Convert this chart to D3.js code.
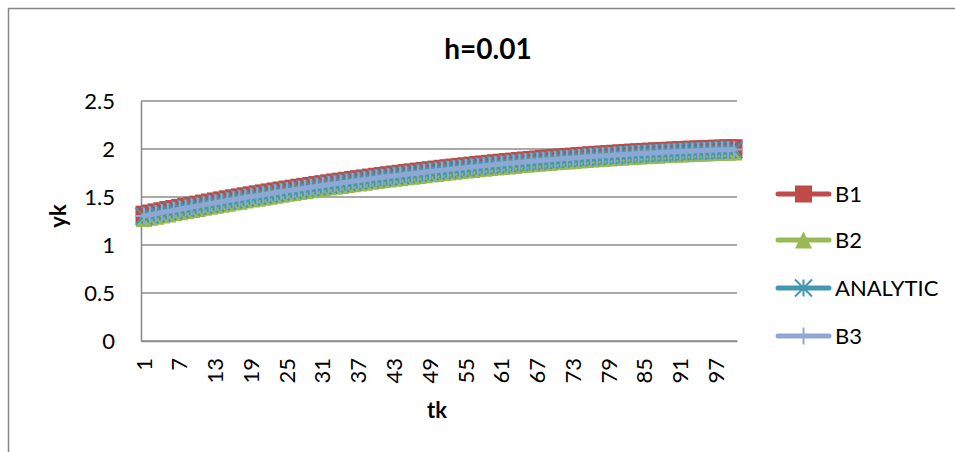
<!DOCTYPE html>
<html>
<head>
<meta charset="utf-8">
<script src="https://cdn.jsdelivr.net/npm/d3@7"></script>
<style>
  html, body { margin: 0; padding: 0; background: #fff; }
  svg { display: block; font-family: Lato, "Open Sans", sans-serif; }
</style>
</head>
<body>
<svg id="chart" width="955" height="452"></svg>
<script>
// Step index tk = 1..100
const tk = d3.range(1, 101);
const xTickLabels = ["1","7","13","19","25","31","37","43","49","55","61","67","73","79","85","91","97"];
const yTicks = [0, 0.5, 1, 1.5, 2, 2.5];

const B1 = [
  1.321,1.333,1.345,1.357,1.369,1.380,1.392,1.404,1.415,1.426,
  1.437,1.448,1.459,1.470,1.481,1.492,1.502,1.513,1.523,1.533,
  1.543,1.553,1.563,1.573,1.583,1.592,1.602,1.611,1.620,1.630,
  1.639,1.648,1.657,1.665,1.674,1.683,1.691,1.699,1.708,1.716,
  1.724,1.732,1.740,1.747,1.755,1.762,1.770,1.777,1.784,1.791,
  1.799,1.805,1.812,1.819,1.825,1.832,1.838,1.845,1.851,1.857,
  1.863,1.869,1.874,1.880,1.886,1.891,1.896,1.902,1.907,1.912,
  1.917,1.921,1.926,1.931,1.935,1.940,1.944,1.948,1.952,1.956,
  1.960,1.964,1.968,1.971,1.975,1.978,1.981,1.984,1.987,1.990,
  1.993,1.996,1.999,2.001,2.003,2.006,2.008,2.010,2.012,2.014
];
const B2 = [
  1.276,1.288,1.300,1.312,1.324,1.335,1.347,1.359,1.370,1.381,
  1.392,1.403,1.414,1.425,1.436,1.447,1.457,1.468,1.478,1.488,
  1.498,1.508,1.518,1.528,1.538,1.547,1.557,1.566,1.575,1.585,
  1.594,1.603,1.612,1.620,1.629,1.638,1.646,1.654,1.663,1.671,
  1.679,1.687,1.695,1.702,1.710,1.717,1.725,1.732,1.739,1.746,
  1.754,1.760,1.767,1.774,1.780,1.787,1.793,1.800,1.806,1.812,
  1.818,1.824,1.829,1.835,1.841,1.846,1.851,1.857,1.862,1.867,
  1.872,1.876,1.881,1.886,1.890,1.895,1.899,1.903,1.907,1.911,
  1.915,1.919,1.923,1.926,1.930,1.933,1.936,1.939,1.942,1.945,
  1.948,1.951,1.954,1.956,1.958,1.961,1.963,1.965,1.967,1.969
];
const ANALYTIC = [
  1.300,1.312,1.324,1.336,1.348,1.359,1.371,1.383,1.394,1.405,
  1.416,1.427,1.438,1.449,1.460,1.471,1.481,1.492,1.502,1.512,
  1.522,1.532,1.542,1.552,1.562,1.571,1.581,1.590,1.599,1.609,
  1.618,1.627,1.636,1.644,1.653,1.662,1.670,1.678,1.687,1.695,
  1.703,1.711,1.719,1.726,1.734,1.741,1.749,1.756,1.763,1.770,
  1.778,1.784,1.791,1.798,1.804,1.811,1.817,1.824,1.830,1.836,
  1.842,1.848,1.853,1.859,1.865,1.870,1.875,1.881,1.886,1.891,
  1.896,1.900,1.905,1.910,1.914,1.919,1.923,1.927,1.931,1.935,
  1.939,1.943,1.947,1.950,1.954,1.957,1.960,1.963,1.966,1.969,
  1.972,1.975,1.978,1.980,1.982,1.985,1.987,1.989,1.991,1.993
];
const B3 = [
  1.302,1.314,1.326,1.338,1.350,1.361,1.373,1.385,1.396,1.407,
  1.418,1.429,1.440,1.451,1.462,1.473,1.483,1.494,1.504,1.514,
  1.524,1.534,1.544,1.554,1.564,1.573,1.583,1.592,1.601,1.611,
  1.620,1.629,1.638,1.646,1.655,1.664,1.672,1.680,1.689,1.697,
  1.705,1.713,1.721,1.728,1.736,1.743,1.751,1.758,1.765,1.772,
  1.780,1.786,1.793,1.800,1.806,1.813,1.819,1.826,1.832,1.838,
  1.844,1.850,1.855,1.861,1.867,1.872,1.877,1.883,1.888,1.893,
  1.898,1.902,1.907,1.912,1.916,1.921,1.925,1.929,1.933,1.937,
  1.941,1.945,1.949,1.952,1.956,1.959,1.962,1.965,1.968,1.971,
  1.974,1.977,1.980,1.982,1.984,1.987,1.989,1.991,1.993,1.995
];

const seriesNames = ["B1", "B2", "ANALYTIC", "B3"];
const seriesValues = [B1, B2, ANALYTIC, B3];
const seriesColors = ["#BE4B48", "#98B954", "#4198AF", "#8EA8D3"];
const seriesMarkers = ["square", "triangle", "asterisk", "plus"];

const svg = d3.select("#chart");
const plot = { left: 141, right: 737, top: 101, bottom: 341 };

// Chart frame
svg.append("rect")
  .attr("x", 8.5).attr("y", 8.5)
  .attr("width", 1000).attr("height", 600)
  .attr("fill", "#fff").attr("stroke", "#868686").attr("stroke-width", 1.5);

const x = d3.scaleBand().domain(tk).range([plot.left, plot.right]).padding(0);
const y = d3.scaleLinear().domain([0, 2.5]).range([plot.bottom, plot.top]);
const cx = d => x(d) + x.bandwidth() / 2;

// Horizontal gridlines
svg.append("g")
  .selectAll("line")
  .data(yTicks)
  .join("line")
  .attr("x1", plot.left).attr("x2", plot.right)
  .attr("y1", d => y(d)).attr("y2", d => y(d))
  .attr("stroke", "#8C8C8C").attr("stroke-width", 1.6);

// Value axis
const yAxis = svg.append("g")
  .attr("transform", `translate(${plot.left},0)`)
  .call(d3.axisLeft(y).tickValues(yTicks).tickSize(0).tickPadding(26).tickFormat(d3.format("")));
yAxis.select(".domain").attr("stroke", "#8C8C8C").attr("stroke-width", 1.6);
yAxis.selectAll("text").attr("font-size", 22).attr("fill", "#000")
  .attr("font-family", "Lato, sans-serif");

// Category axis
const xAxis = svg.append("g")
  .attr("transform", `translate(0,${plot.bottom})`)
  .call(d3.axisBottom(x).tickValues(xTickLabels.map(Number)).tickSize(0).tickFormat(d => String(d)));
xAxis.select(".domain").attr("stroke", "#8C8C8C").attr("stroke-width", 1.6);
xAxis.selectAll("text")
  .attr("font-size", 22).attr("fill", "#000").attr("font-family", "Lato, sans-serif")
  .attr("transform", "rotate(-90)")
  .attr("text-anchor", "end")
  .attr("x", -17).attr("y", 0).attr("dy", "0.35em");

// Marker shapes
function drawMarker(g, type, color, px, py) {
  const s = 8.5;
  if (type === "square") {
    g.append("rect").attr("x", px - s).attr("y", py - s)
      .attr("width", 2 * s).attr("height", 2 * s).attr("fill", color);
  } else if (type === "triangle") {
    g.append("path")
      .attr("d", `M${px},${py - s}L${px + s},${py + s}L${px - s},${py + s}Z`)
      .attr("fill", color);
  } else if (type === "asterisk") {
    g.append("path")
      .attr("d", `M${px - s},${py - s}L${px + s},${py + s}M${px + s},${py - s}L${px - s},${py + s}M${px},${py - s}L${px},${py + s}`)
      .attr("stroke", color).attr("stroke-width", 2).attr("fill", "none");
  } else if (type === "plus") {
    g.append("path")
      .attr("d", `M${px},${py - s}L${px},${py + s}M${px - s},${py}L${px + s},${py}`)
      .attr("stroke", color).attr("stroke-width", 2).attr("fill", "none");
  }
}

// Series: line then markers, in legend order
const line = d3.line().x((d, i) => cx(tk[i])).y(d => y(d));
seriesValues.forEach((vals, k) => {
  const g = svg.append("g");
  g.append("path").attr("d", line(vals))
    .attr("fill", "none").attr("stroke", seriesColors[k])
    .attr("stroke-width", 5).attr("stroke-linejoin", "round").attr("stroke-linecap", "round");
  vals.forEach((v, i) => drawMarker(g, seriesMarkers[k], seriesColors[k], cx(tk[i]), y(v)));
});

// Title
svg.append("text")
  .attr("x", 488).attr("y", 59)
  .attr("text-anchor", "middle")
  .attr("font-size", 28).attr("font-weight", "bold")
  .text("h=0.01");

// Axis titles
svg.append("text")
  .attr("transform", "translate(66,216) rotate(-90)")
  .attr("text-anchor", "middle")
  .attr("font-size", 22).attr("font-weight", "bold")
  .text("yk");
svg.append("text")
  .attr("x", 437).attr("y", 418)
  .attr("text-anchor", "middle")
  .attr("font-size", 22).attr("font-weight", "bold")
  .text("tk");

// Legend
const legendY = [194, 240, 288, 336];
seriesNames.forEach((name, k) => {
  const g = svg.append("g");
  const ly = legendY[k];
  g.append("line").attr("x1", 778).attr("x2", 829).attr("y1", ly).attr("y2", ly)
    .attr("stroke", seriesColors[k]).attr("stroke-width", 5).attr("stroke-linecap", "round");
  drawMarker(g, seriesMarkers[k], seriesColors[k], 803.5, ly);
  g.append("text").attr("x", 835).attr("y", ly).attr("dy", "0.36em")
    .attr("font-size", 22).text(name);
});
</script>
</body>
</html>
